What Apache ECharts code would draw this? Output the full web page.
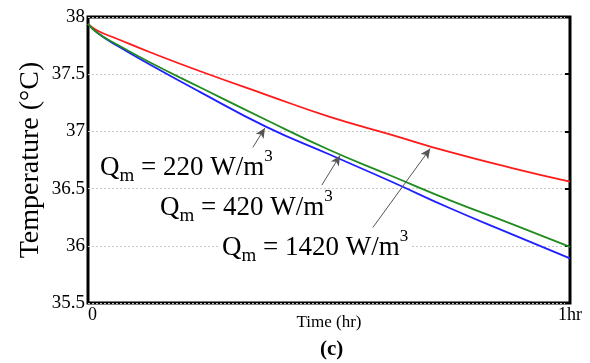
<!DOCTYPE html>
<html>
<head>
<meta charset="utf-8">
<script src="https://cdn.jsdelivr.net/npm/echarts@6/dist/echarts.min.js"></script>
<style>
  html, body { margin: 0; padding: 0; background: #fff; }
  #chart { width: 590px; height: 363px; }
</style>
</head>
<body>
<div id="chart"></div>
<script>
// time in fraction of an hour
const timeHr = [0, 0.02, 0.06, 0.13, 0.23, 0.37, 0.5, 0.63, 0.75, 0.88, 1];
const temp220 = [37.94, 37.88, 37.81, 37.69, 37.53, 37.32, 37.13, 36.97, 36.82, 36.68, 36.56];
const temp420 = [37.94, 37.86, 37.76, 37.60, 37.39, 37.10, 36.84, 36.61, 36.40, 36.19, 35.99];
const temp1420 = [37.94, 37.86, 37.75, 37.58, 37.35, 37.04, 36.80, 36.56, 36.33, 36.10, 35.89];

const yTicks = [35.5, 36, 36.5, 37, 37.5, 38];
const xTickLabels = { 0: "0", 1: "1hr" };

// annotation arrows: [from, to] in data units
const arrows = [
  [[0.342, 36.86], [0.367, 37.03]],
  [[0.485, 36.53], [0.523, 36.79]],
  [[0.591, 36.16], [0.710, 36.85]]
];

const serif = "'Liberation Serif', 'DejaVu Serif', serif";
const zip = (xs, ys) => xs.map((x, i) => [x, ys[i]]);

const chart = echarts.init(document.getElementById("chart"), null, { renderer: "canvas" });

const labelRich = {
  q: { fontFamily: serif, fontSize: 27, color: "#000" },
  sub: { fontFamily: serif, fontSize: 19, color: "#000", verticalAlign: "bottom", padding: [0, 0, -5, 0] },
  sup: { fontFamily: serif, fontSize: 17, color: "#000", verticalAlign: "top", padding: [-6, 0, 0, 0] }
};

function qLabel(value, left, top) {
  return {
    type: "text",
    left: left,
    top: top,
    z: 10,
    style: {
      text: "{q|Q}{sub|m}{q| = " + value + " W/m}{sup|3}",
      rich: labelRich,
      backgroundColor: "#fff",
      padding: [2, 2, 0, 2]
    }
  };
}

const option = {
  backgroundColor: "#fff",
  animation: false,
  grid: {
    left: 88,
    right: 20,
    top: 17,
    bottom: 60,
    show: true,
    borderColor: "#000",
    borderWidth: 3,
    backgroundColor: "transparent"
  },
  xAxis: {
    type: "value",
    min: 0,
    max: 1,
    interval: 1,
    name: "Time (hr)",
    nameLocation: "middle",
    nameGap: 11,
    nameMoveOverlap: false,
    nameTextStyle: { fontFamily: serif, fontSize: 17, color: "#000" },
    axisLine: { show: false },
    axisTick: { show: false },
    splitLine: { show: false },
    axisLabel: {
      fontFamily: serif,
      fontSize: 18,
      color: "#000",
      margin: 3,
      alignMinLabel: "left",
      formatter: (v) => xTickLabels[v] ?? ""
    }
  },
  yAxis: [
    {
      type: "value",
      min: yTicks[0],
      max: yTicks[yTicks.length - 1],
      interval: 0.5,
      name: "Temperature (°C)",
      nameLocation: "middle",
      nameGap: 43,
      nameMoveOverlap: false,
      nameTextStyle: { fontFamily: serif, fontSize: 28, color: "#000" },
      axisLine: { show: false },
      axisTick: { show: false },
      axisLabel: { fontFamily: serif, fontSize: 19, color: "#000", margin: 3 },
      splitLine: { lineStyle: { color: "#c8c8c8", type: [2, 2], width: 1 } }
    },
    {
      type: "value",
      position: "right",
      min: yTicks[0],
      max: yTicks[yTicks.length - 1],
      interval: 0.5,
      axisLine: { show: false },
      axisTick: { show: true, inside: true, length: 5, lineStyle: { color: "#000", width: 2 } },
      axisLabel: { show: false },
      splitLine: { show: false }
    }
  ],
  series: [
    {
      name: "220",
      type: "line",
      data: zip(timeHr, temp220),
      smooth: 0.5,
      showSymbol: false,
      lineStyle: { color: "#ff1a1a", width: 1.8 },
      z: 3,
      markLine: {
        silent: true,
        symbol: ["none", "arrow"],
        symbolSize: [7, 10],
        label: { show: false },
        lineStyle: { color: "#555", width: 1, type: "solid" },
        data: arrows.map((a) => [{ coord: a[0] }, { coord: a[1] }])
      }
    },
    {
      name: "420",
      type: "line",
      data: zip(timeHr, temp420),
      smooth: 0.5,
      showSymbol: false,
      lineStyle: { color: "#1f8c1f", width: 1.8 },
      z: 3
    },
    {
      name: "1420",
      type: "line",
      data: zip(timeHr, temp1420),
      smooth: 0.5,
      showSymbol: false,
      lineStyle: { color: "#1f1fff", width: 1.8 },
      z: 2
    }
  ],
  graphic: [
    qLabel("220", 98, 148),
    qLabel("420", 158, 188),
    qLabel("1420", 220, 228),
    {
      type: "text",
      left: 320,
      top: 339,
      style: { text: "(c)", fontFamily: serif, fontSize: 21, fontWeight: "bold", fill: "#000" }
    }
  ]
};

chart.setOption(option);
</script>
</body>
</html>
